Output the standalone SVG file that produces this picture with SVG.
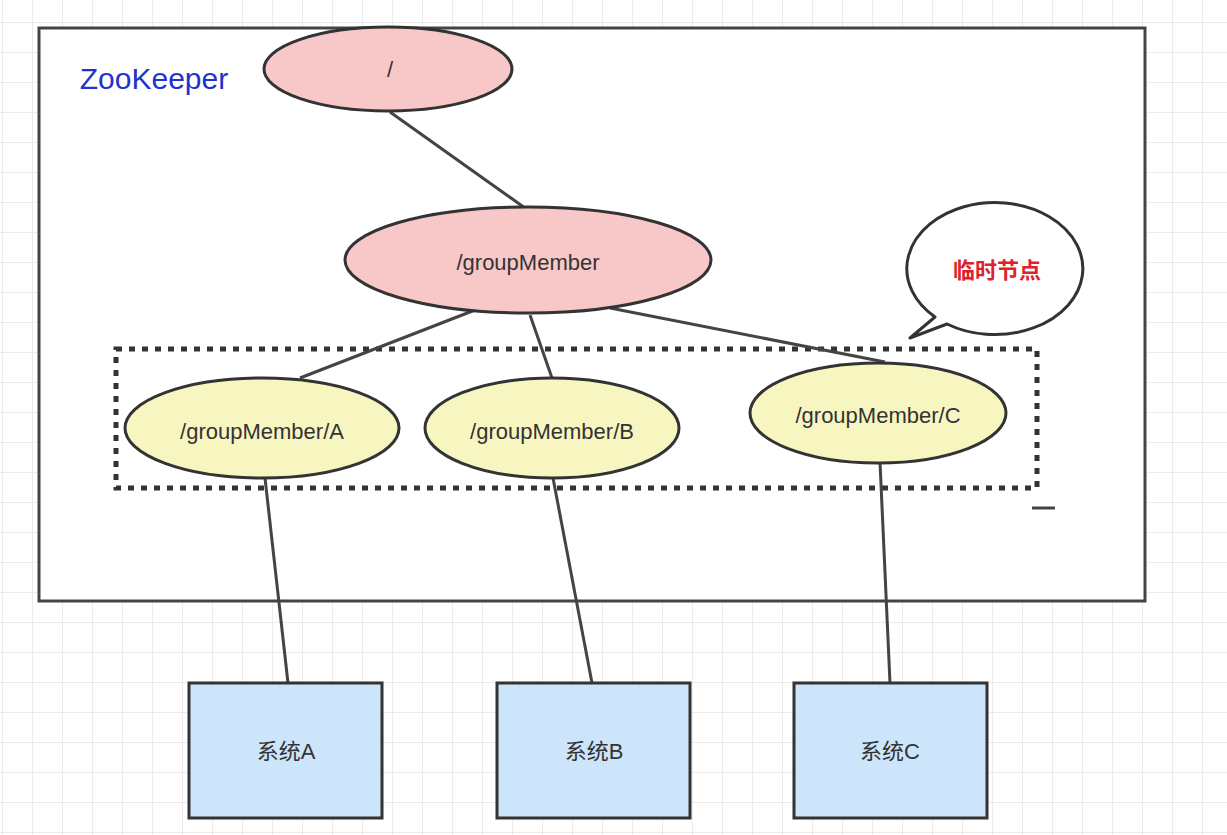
<svg xmlns="http://www.w3.org/2000/svg" width="1227" height="835" viewBox="0 0 1227 835">
<defs>
<pattern id="grid" x="2" y="22" width="30" height="30" patternUnits="userSpaceOnUse">
<path d="M0 0H30M0 0V30" fill="none" stroke="#e6e6e6" stroke-width="1.5"/>
</pattern>
<style>
.t{font-family:"Liberation Sans",Arial,"Noto Sans CJK SC",sans-serif;font-size:22px;fill:#333;text-anchor:middle;dominant-baseline:central}
.pink{fill:#f8c8c8;stroke:#333;stroke-width:3}
.yel{fill:#f8f6c0;stroke:#333;stroke-width:3}
.sys{fill:#cce5fa;stroke:#333;stroke-width:3}
.ln{stroke:#444;stroke-width:3;fill:none}
</style>
</defs>
<rect width="1227" height="835" fill="#fff"/>
<rect width="1227" height="835" fill="url(#grid)"/>
<g id="zk">
<rect x="39" y="28" width="1106" height="573" fill="#fff" stroke="#444" stroke-width="3"/>
<text x="154" y="78" class="t" style="fill:#2233cc;font-size:30px">ZooKeeper</text>
</g>
<g id="temp-box">
<rect x="116" y="349" width="921" height="139" fill="none" stroke="#333" stroke-width="5" stroke-dasharray="6,7"/>
<line x1="1032" y1="508" x2="1055" y2="508" stroke="#444" stroke-width="3"/>
</g>
<g id="connectors">
<line class="ln" x1="390" y1="112" x2="525" y2="208"/>
<line class="ln" x1="475" y1="310" x2="300" y2="378"/>
<line class="ln" x1="530" y1="315" x2="552" y2="378"/>
<line class="ln" x1="610" y1="308" x2="885" y2="362"/>
<line class="ln" x1="265" y1="478" x2="288" y2="683"/>
<line class="ln" x1="553" y1="478" x2="592" y2="683"/>
<line class="ln" x1="880" y1="462" x2="890" y2="683"/>
<line class="ln" x1="655" y1="428" x2="678" y2="428"/>
</g>
<g id="root"><ellipse class="pink" cx="388" cy="69" rx="124" ry="42"/><text x="390" y="69" class="t">/</text></g>
<g id="groupMember"><ellipse class="pink" cx="528" cy="260" rx="183" ry="53"/><text x="528" y="262" class="t">/groupMember</text></g>
<g id="gmA"><ellipse class="yel" cx="262" cy="428" rx="137" ry="50"/><text x="262" y="431" class="t">/groupMember/A</text></g>
<g id="gmB"><ellipse class="yel" cx="552" cy="428" rx="127" ry="50"/><text x="552" y="431" class="t">/groupMember/B</text></g>
<g id="gmC"><ellipse class="yel" cx="878" cy="413" rx="128" ry="50"/><text x="878" y="415" class="t">/groupMember/C</text></g>
<g id="bubble">
<path d="M947 324 L910 338 L935 317 A88 66 0 1 1 947 324 Z" fill="#fff" stroke="#333" stroke-width="3" stroke-linejoin="round"/>
<text x="997" y="270" class="t" style="fill:#e0202a;font-weight:bold">临时节点</text>
</g>
<g id="sysA"><rect class="sys" x="189" y="683" width="193" height="135"/><text x="286" y="751" class="t">系统A</text></g>
<g id="sysB"><rect class="sys" x="497" y="683" width="193" height="135"/><text x="594" y="751" class="t">系统B</text></g>
<g id="sysC"><rect class="sys" x="794" y="683" width="193" height="135"/><text x="890" y="751" class="t">系统C</text></g>
</svg>
